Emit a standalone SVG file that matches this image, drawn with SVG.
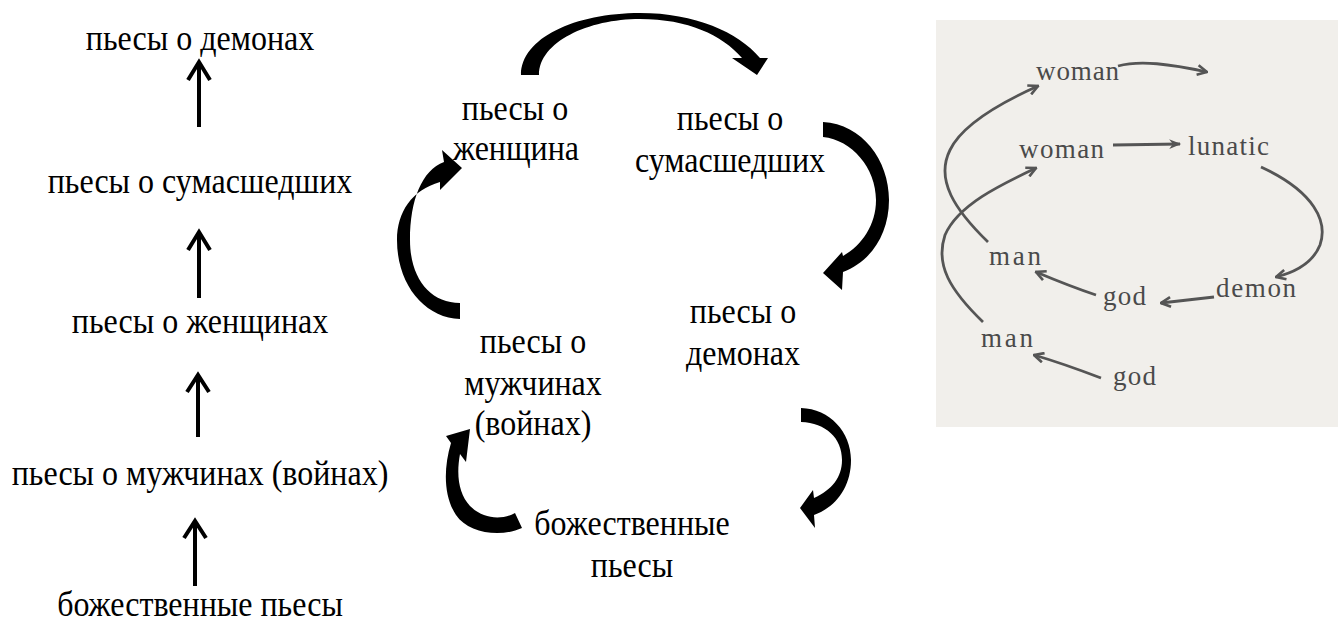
<svg xmlns="http://www.w3.org/2000/svg" width="1338" height="621" viewBox="0 0 1338 621">
<style>
  .t { font-family: "Liberation Serif", "Times New Roman", serif; font-size: 32px; fill: #000; text-anchor: middle; }
  .p { font-family: "Liberation Serif", "Times New Roman", serif; font-size: 27px; fill: #4a4a4a; }
  .up { fill: none; stroke: #000; stroke-width: 4; }
  .ph { fill: none; stroke: #555; stroke-width: 2.8; }
  .crv { fill: #000; stroke: none; }
</style>
<defs>
  <marker id="oh" viewBox="0 0 10 10" refX="9" refY="5" markerWidth="12" markerHeight="12" markerUnits="userSpaceOnUse" orient="auto">
    <path d="M1,1 L9,5 L1,9" fill="none" stroke="#555" stroke-width="2.2"/>
  </marker>
  <marker id="fh" viewBox="0 0 10 10" refX="9" refY="5" markerWidth="14" markerHeight="12" markerUnits="userSpaceOnUse" orient="auto">
    <path d="M0,1 L10,5 L0,9 L3,5 Z" fill="#555"/>
  </marker>
</defs>
<rect width="1338" height="621" fill="#fff"/>

<!-- Left column -->
<g id="left-demons"><text class="t" transform="translate(200,50) scale(1,1.15)">пьесы о демонах</text></g>
<g id="left-lunatics"><text class="t" transform="translate(200,193) scale(1,1.15)">пьесы о сумасшедших</text></g>
<g id="left-women"><text class="t" transform="translate(200,333) scale(1,1.15)">пьесы о женщинах</text></g>
<g id="left-men"><text class="t" transform="translate(200,485) scale(1,1.15)">пьесы о мужчинах (войнах)</text></g>
<g id="left-gods"><text class="t" transform="translate(200,616) scale(1,1.15)">божественные пьесы</text></g>
<g id="left-connectors">
  <path class="up" d="M199,127 V62 M188,80 L199,62 L210,80"/>
  <path class="up" d="M199,298 V232 M188,250 L199,232 L210,250"/>
  <path class="up" d="M198,437 V375 M187,392 L198,375 L209,392"/>
  <path class="up" d="M195,586 V521 M184,538 L195,521 L206,538"/>
</g>

<!-- Middle cycle -->
<g id="mid-women">
  <text class="t" transform="translate(515,120) scale(1,1.15)">пьесы о</text>
  <text class="t" transform="translate(516,160) scale(1,1.15)">женщина</text>
</g>
<g id="mid-lunatics">
  <text class="t" transform="translate(730,130) scale(1,1.15)">пьесы о</text>
  <text class="t" transform="translate(730,172) scale(1,1.15)">сумасшедших</text>
</g>
<g id="mid-demons">
  <text class="t" transform="translate(743,323) scale(1,1.15)">пьесы о</text>
  <text class="t" transform="translate(743,365) scale(1,1.15)">демонах</text>
</g>
<g id="mid-men">
  <text class="t" transform="translate(533,353) scale(1,1.15)">пьесы о</text>
  <text class="t" transform="translate(533,395) scale(1,1.15)">мужчинах</text>
  <text class="t" transform="translate(533,435) scale(1,1.15)">(войнах)</text>
</g>
<g id="mid-gods">
  <text class="t" transform="translate(632,535) scale(1,1.15)">божественные</text>
  <text class="t" transform="translate(632,577) scale(1,1.15)">пьесы</text>
</g>
<g id="mid-connectors">
  <path class="crv" d="M521,75 C521,38 575,13 640,13 C695,13 738,32 760,58 L768,58 L757,75 L732,58 L742,58 C722,35 688,19 640,19 C588,19 539,42 539,75 Z"/>
  <path class="crv" d="M823,122 C862,124 889,160 889,200 C889,235 870,262 843,272 L842,290 L823,273 L842,252 L843,256 C862,245 876,225 876,200 C876,168 852,140 823,137 Z"/>
  <path class="crv" d="M801,408 C830,409 851,432 851,460 C851,487 836,507 814,515 L815,528 L800,508 L813,490 L814,498 C832,490 842,477 842,460 C842,438 826,423 801,422 Z"/>
  <path class="crv" d="M522,528 C500,538 468,533 456,515 C444,497 443,470 451,443 L446,436 L470,429 L466,462 L460,454 C456,476 459,494 470,506 C482,518 500,521 515,513 Z"/>
  <path class="crv" d="M460,319 C425,318 397,285 397,240 C397,212 412,190 440,182 L440,190 L462,168 L442,150 L444,162 C422,170 410,200 410,240 C410,278 430,303 460,303 Z"/>
</g>

<!-- Right panel (scanned sketch) -->
<rect x="936" y="20" width="402" height="407" fill="#f1efeb"/>
<g id="r-woman1"><text class="p" x="1036" y="80" textLength="83" lengthAdjust="spacing">woman</text></g>
<g id="r-woman2"><text class="p" x="1019" y="158" textLength="85" lengthAdjust="spacing">woman</text></g>
<g id="r-lunatic"><text class="p" x="1188" y="155" textLength="81" lengthAdjust="spacing">lunatic</text></g>
<g id="r-demon"><text class="p" x="1216" y="297" textLength="80" lengthAdjust="spacing">demon</text></g>
<g id="r-god1"><text class="p" x="1103" y="305" textLength="43" lengthAdjust="spacing">god</text></g>
<g id="r-man1"><text class="p" x="989" y="265" textLength="52" lengthAdjust="spacing">man</text></g>
<g id="r-man2"><text class="p" x="981" y="347" textLength="52" lengthAdjust="spacing">man</text></g>
<g id="r-god2"><text class="p" x="1113" y="385" textLength="43" lengthAdjust="spacing">god</text></g>
<g id="r-connectors">
  <path class="ph" marker-end="url(#oh)" d="M1118,66 C1140,60 1170,64 1207,72"/>
  <path class="ph" marker-end="url(#fh)" d="M1113,145 L1180,144"/>
  <path class="ph" marker-end="url(#oh)" d="M1261,167 C1315,192 1328,222 1320,245 C1312,265 1292,273 1276,277"/>
  <path class="ph" marker-end="url(#oh)" d="M1214,297 C1195,299 1180,301 1161,303"/>
  <path class="ph" marker-end="url(#oh)" d="M1096,295 C1075,288 1055,280 1036,272"/>
  <path class="ph" marker-end="url(#oh)" d="M1101,378 C1080,370 1058,362 1034,355"/>
  <path class="ph" marker-end="url(#oh)" d="M988,242 C955,210 935,180 950,150 C962,125 1000,103 1038,86"/>
  <path class="ph" marker-end="url(#oh)" d="M983,322 C950,290 935,265 945,235 C958,205 1000,185 1036,168"/>
</g>
</svg>
